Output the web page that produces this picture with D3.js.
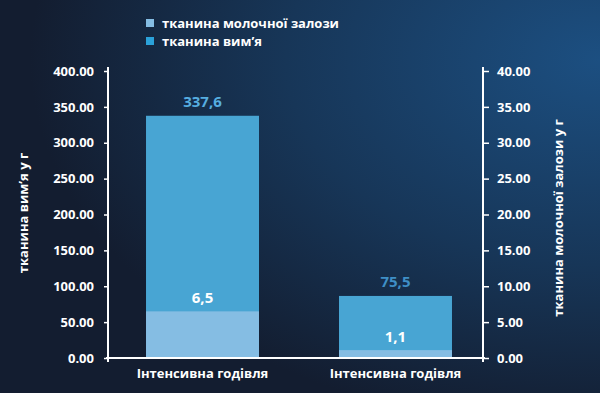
<!DOCTYPE html>
<html>
<head>
<meta charset="utf-8">
<script src="https://cdn.jsdelivr.net/npm/d3@7"></script>
<style>
  body { margin: 0; background: #131d30; }
  text { font-family: "Open Sans", "Noto Sans", sans-serif; font-weight: bold; }
</style>
</head>
<body>
<div id="chart"></div>
<script>
// data
var categories = ["Інтенсивна годівля", "Інтенсивна годівля "];
var udderValues = [337.6, 86.5];        // left axis, bar heights as drawn
var udderLabels = ["337,6", "75,5"];
var glandValues = [6.5, 1.1];           // right axis
var glandLabels = ["6,5", "1,1"];
var leftTicks = [0, 50, 100, 150, 200, 250, 300, 350, 400];
var rightTicks = [0, 5, 10, 15, 20, 25, 30, 35, 40];
var seriesNames = ["тканина молочної залози", "тканина вим’я"];

var svgWidth = 600;
var svgHeight = 393;

var margin = { top: 71, right: 117, bottom: 35, left: 108 };
var width = svgWidth - margin.left - margin.right;
var height = svgHeight - margin.top - margin.bottom;

var lightBlue = "#85bde3";
var midBlue = "#48a5d3";

var svg = d3.select("#chart")
  .append("svg")
  .attr("width", svgWidth)
  .attr("height", svgHeight);

// background gradient
var defs = svg.append("defs");
var grad = defs.append("radialGradient")
  .attr("id", "bg")
  .attr("cx", "100%").attr("cy", "15%").attr("r", "95%")
  .attr("gradientUnits", "objectBoundingBox");
grad.append("stop").attr("offset", "0%").attr("stop-color", "#1c4f81");
grad.append("stop").attr("offset", "55%").attr("stop-color", "#173658");
grad.append("stop").attr("offset", "100%").attr("stop-color", "#131d30");

svg.append("rect")
  .attr("width", svgWidth)
  .attr("height", svgHeight)
  .attr("fill", "url(#bg)");

var chartGroup = svg.append("g")
  .attr("transform", `translate(${margin.left}, ${margin.top})`);

// scales
var xScale = d3.scaleBand()
  .domain(categories)
  .range([0, 382])
  .paddingInner(0.4145)
  .paddingOuter(0.197);

var yLeft = d3.scaleLinear().domain([0, 400]).range([height, 0]);
var yRight = d3.scaleLinear().domain([0, 40]).range([height, 0]);

// bars - udder (behind)
chartGroup.selectAll(".udder")
  .data(udderValues)
  .enter()
  .append("rect")
  .attr("class", "udder")
  .attr("x", (d, i) => xScale(categories[i]))
  .attr("width", xScale.bandwidth())
  .attr("y", d => yLeft(d))
  .attr("height", d => height - yLeft(d))
  .attr("fill", midBlue);

// bars - mammary gland (front, right axis)
chartGroup.selectAll(".gland")
  .data(glandValues)
  .enter()
  .append("rect")
  .attr("class", "gland")
  .attr("x", (d, i) => xScale(categories[i]))
  .attr("width", xScale.bandwidth())
  .attr("y", d => yRight(d))
  .attr("height", d => height - yRight(d))
  .attr("fill", lightBlue);

// value labels
chartGroup.selectAll(".udderLabel")
  .data(udderValues)
  .enter()
  .append("text")
  .attr("x", (d, i) => xScale(categories[i]) + xScale.bandwidth() / 2)
  .attr("y", d => yLeft(d) - 9)
  .attr("text-anchor", "middle")
  .attr("font-size", "15px")
  .attr("fill", (d, i) => i === 0 ? "#56aee0" : "#3f8fc6")
  .text((d, i) => udderLabels[i]);

chartGroup.selectAll(".glandLabel")
  .data(glandValues)
  .enter()
  .append("text")
  .attr("x", (d, i) => xScale(categories[i]) + xScale.bandwidth() / 2)
  .attr("y", d => yRight(d) - 8)
  .attr("text-anchor", "middle")
  .attr("font-size", "15px")
  .attr("fill", "#ffffff")
  .text((d, i) => glandLabels[i]);

// axes
var leftAxis = d3.axisLeft(yLeft).tickValues(leftTicks).tickFormat(d3.format(".2f")).tickSize(4).tickPadding(10);
var rightAxis = d3.axisRight(yRight).tickValues(rightTicks).tickFormat(d3.format(".2f")).tickSize(6).tickPadding(8);

var yAxisL = chartGroup.append("g").call(leftAxis);
var yAxisR = chartGroup.append("g")
  .attr("transform", `translate(${width}, 0)`)
  .call(rightAxis);

[yAxisL, yAxisR].forEach(function(ax) {
  ax.select(".domain").remove();
  ax.selectAll(".tick line").attr("stroke", "#ffffff").attr("stroke-width", 1.5);
  ax.selectAll(".tick text")
    .attr("fill", "#ffffff")
    .attr("font-size", "13px")
    .style("font-family", "'Open Sans', sans-serif")
    .style("font-weight", "bold");
});

// axis lines
chartGroup.append("line")
  .attr("x1", 0).attr("x2", 0)
  .attr("y1", -4).attr("y2", height + 4)
  .attr("stroke", "#ffffff").attr("stroke-width", 2);
chartGroup.append("line")
  .attr("x1", width).attr("x2", width)
  .attr("y1", -4).attr("y2", height + 4)
  .attr("stroke", "#ffffff").attr("stroke-width", 2);
chartGroup.append("line")
  .attr("x1", -2).attr("x2", width + 2)
  .attr("y1", height).attr("y2", height)
  .attr("stroke", "#ffffff").attr("stroke-width", 2);

// category labels
chartGroup.selectAll(".catLabel")
  .data(categories)
  .enter()
  .append("text")
  .attr("x", d => xScale(d) + xScale.bandwidth() / 2)
  .attr("y", height + 20)
  .attr("text-anchor", "middle")
  .attr("font-size", "13px")
  .attr("fill", "#ffffff")
  .text(d => d.trim());

// axis titles
svg.append("text")
  .attr("transform", `translate(28, 213) rotate(-90)`)
  .attr("text-anchor", "middle")
  .attr("font-size", "13px")
  .attr("fill", "#ffffff")
  .text("тканина вим’я у г");

svg.append("text")
  .attr("transform", `translate(563, 218) rotate(-90)`)
  .attr("text-anchor", "middle")
  .attr("font-size", "13px")
  .attr("fill", "#ffffff")
  .text("тканина молочної залози у г");

// legend
var legend = svg.append("g").attr("transform", "translate(146, 17)");
var legendColors = [lightBlue, "#2ba2da"];
seriesNames.forEach(function(name, i) {
  var row = legend.append("g").attr("transform", `translate(0, ${i * 18})`);
  row.append("rect")
    .attr("width", 8).attr("height", 8)
    .attr("y", 2)
    .attr("fill", legendColors[i]);
  row.append("text")
    .attr("x", 16)
    .attr("y", 11)
    .attr("font-size", "13px")
    .attr("fill", "#ffffff")
    .text(name);
});
</script>
</body>
</html>
